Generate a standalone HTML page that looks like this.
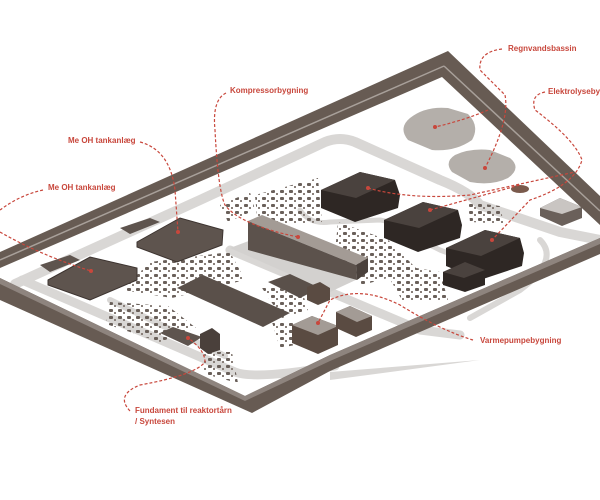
<!DOCTYPE html>
<html><head><meta charset="utf-8"><style>
html,body{margin:0;padding:0;background:#fff;}
svg{display:block}
text{font-family:"Liberation Sans Narrow","Liberation Sans",sans-serif;font-weight:bold;font-size:8px;fill:#c8473c}
.d{fill:none;stroke:#c8473c;stroke-width:1.2;stroke-dasharray:3 2}
</style></head><body>
<svg width="600" height="500" viewBox="0 0 600 500" xmlns="http://www.w3.org/2000/svg">
<defs>
<pattern id="sp" width="9" height="7" patternUnits="userSpaceOnUse">
<rect x="1" y="1" width="4" height="3" rx="1" fill="#6a605a"/>
<rect x="6" y="4" width="2" height="2" fill="#8a807a"/>
</pattern>
</defs>
<polygon points="442,77 600,225 600,250 330,372 252,400 0,282 0,268" fill="#fff"/>
<g fill="none" stroke="#d9d7d5" stroke-linejoin="round" stroke-linecap="round">
<path d="M15,284 L200,200 L325,142 Q340,136 355,142 L440,180 Q470,192 480,205 L560,232 L600,240" stroke-width="10"/>
<path d="M22,280 L235,372 Q255,380 335,366" stroke-width="9"/>
<path d="M230,250 L330,292 L420,330 L460,335" stroke-width="9"/>
<path d="M300,210 Q310,225 330,222 L380,220 Q395,222 410,235 L440,250 Q470,262 495,262" stroke-width="5"/>
<path d="M540,240 Q560,260 520,290 L470,318" stroke-width="6"/>
<path d="M110,300 L225,356" stroke-width="6"/>
</g>
<polygon points="230,248 262,236 360,278 330,292" fill="#d3d1cf"/>
<path d="M410,118 Q425,106 448,108 L468,114 Q480,126 472,140 Q455,152 432,150 L408,140 Q398,128 410,118Z" fill="#b4afaa"/>
<path d="M455,155 Q470,148 490,150 L510,158 Q522,168 508,178 Q492,186 470,182 L452,172 Q444,162 455,155Z" fill="#b4afaa"/>
<ellipse cx="520" cy="189" rx="9" ry="4" fill="#7a5a4c"/>
<g fill="url(#sp)">
<polygon points="255,195 318,178 322,222 258,228"/>
<polygon points="338,222 388,240 418,270 362,285 334,262"/>
<polygon points="380,262 440,272 448,300 402,300"/>
<polygon points="150,262 230,252 245,280 172,298 122,290"/>
<polygon points="110,302 168,306 196,328 160,342 106,324"/>
<polygon points="262,288 300,284 308,310 282,318"/>
<polygon points="203,352 232,352 238,383 204,374"/>
<polygon points="272,322 295,322 295,345 280,348"/>
<polygon points="468,202 500,206 504,224 470,222"/>
<polygon points="220,205 250,192 255,210 228,222"/>
</g>
<polygon points="137,242 180,218 223,230 222,245 177,262 137,247" fill="#5e544e" stroke="#3d3430" stroke-width="1"/>
<polygon points="120,228 150,218 160,222 130,234" fill="#5e544e"/>
<polygon points="48,280 90,257 137,268 137,280 90,300 48,285" fill="#5e544e" stroke="#3d3430" stroke-width="1"/>
<polygon points="40,265 70,255 80,260 50,272" fill="#5e544e"/>
<polygon points="177,288 203,275 290,313 263,327" fill="#5a504a"/>
<polygon points="268,282 290,274 320,288 300,298" fill="#5a504a"/>
<polygon points="160,333 173,327 202,337 188,346" fill="#5e544e"/>
<polygon points="200,334 212,328 220,334 220,350 208,354 200,348" fill="#4a403b"/>
<polygon points="248,221 262,215 368,258 356,265" fill="#a39b95"/>
<polygon points="248,221 356,265 357,280 248,250" fill="#5c524c"/>
<polygon points="356,265 368,258 368,272 357,280" fill="#4a413c"/>
<g>
<polygon points="321,190 360,172 395,180 400,195 398,208 355,222 321,208" fill="#2e2724"/>
<polygon points="321,190 360,172 395,180 356,198" fill="#4a423e"/>
<polygon points="384,220 423,202 458,210 462,225 460,238 418,252 384,238" fill="#2e2724"/>
<polygon points="384,220 423,202 458,210 419,228" fill="#4a423e"/>
<polygon points="446,248 485,230 520,238 524,253 522,266 480,280 446,266" fill="#2e2724"/>
<polygon points="446,248 485,230 520,238 481,256" fill="#4a423e"/>
<polygon points="443,272 465,262 485,270 485,285 465,292 443,285" fill="#2e2724"/>
<polygon points="443,272 465,262 485,270 464,278" fill="#4a423e"/>
</g>
<polygon points="292,325 312,316 338,326 338,345 318,354 292,343" fill="#5a4b42"/>
<polygon points="292,325 312,316 338,326 318,335" fill="#a39b95"/>
<polygon points="336,312 350,306 372,316 372,330 356,337 336,328" fill="#5a4b42"/>
<polygon points="336,312 350,306 372,316 357,322" fill="#a39b95"/>
<polygon points="307,287 320,282 330,288 330,300 318,305 307,300" fill="#5a4b42"/>
<polygon points="540,208 560,198 582,207 582,218 562,226 540,216" fill="#6a605a"/>
<polygon points="540,208 560,198 582,207 562,214" fill="#c9c5c2"/>
<polygon points="448,51 600,196 600,225 442,77 0,268 0,252" fill="#675b53"/>
<path d="M444,66 L600,211 M444,66 L0,260" stroke="#a8a09a" stroke-width="1.5" fill="none"/>
<polygon points="0,278 245,396 330,355 600,238 600,254 330,371 252,413 0,300" fill="#675b53"/>
<polygon points="0,278 245,396 330,355 600,238 600,244 330,361 245,401 0,284" fill="#8e847e"/>
<polygon points="330,372 480,360 330,380" fill="#d9d7d5"/>
<path class="d" d="M140,142 Q170,150 175,190 L178,232"/>
<path class="d" d="M43,190 Q20,195 0,210"/>
<path class="d" d="M0,232 Q40,255 91,271"/>
<path class="d" d="M226,93 Q212,100 215,130 Q218,190 225,205 Q240,225 298,237"/>
<path class="d" d="M502,49 Q478,52 480,70 Q495,85 505,95 Q510,120 485,168"/>
<path class="d" d="M488,110 Q465,120 435,127"/>
<path class="d" d="M545,92 Q530,95 535,110 Q575,140 582,160 Q575,185 530,200 L492,240"/>
<path class="d" d="M368,188 Q410,200 470,195 L575,172"/>
<path class="d" d="M430,210 L520,185"/>
<path class="d" d="M473,340 Q440,330 400,305 Q360,285 330,300 L318,323"/>
<path class="d" d="M130,411 Q115,395 140,385 Q195,375 205,362 Q205,350 188,338"/>
<g fill="#c8473c">
<circle cx="178" cy="232" r="2"/><circle cx="91" cy="271" r="2"/><circle cx="298" cy="237" r="2"/>
<circle cx="435" cy="127" r="2"/><circle cx="485" cy="168" r="2"/><circle cx="368" cy="188" r="2"/>
<circle cx="430" cy="210" r="2"/><circle cx="492" cy="240" r="2"/><circle cx="318" cy="323" r="2"/>
<circle cx="188" cy="338" r="2"/>
</g>
<text x="508" y="51">Regnvandsbassin</text>
<text x="548" y="94">Elektrolysebygning</text>
<text x="230" y="93">Kompressorbygning</text>
<text x="68" y="143">Me OH tankanlæg</text>
<text x="48" y="190">Me OH tankanlæg</text>
<text x="480" y="343">Varmepumpebygning</text>
<text x="135" y="413">Fundament til reaktortårn</text>
<text x="135" y="424">/ Syntesen</text>
</svg>
</body></html>
